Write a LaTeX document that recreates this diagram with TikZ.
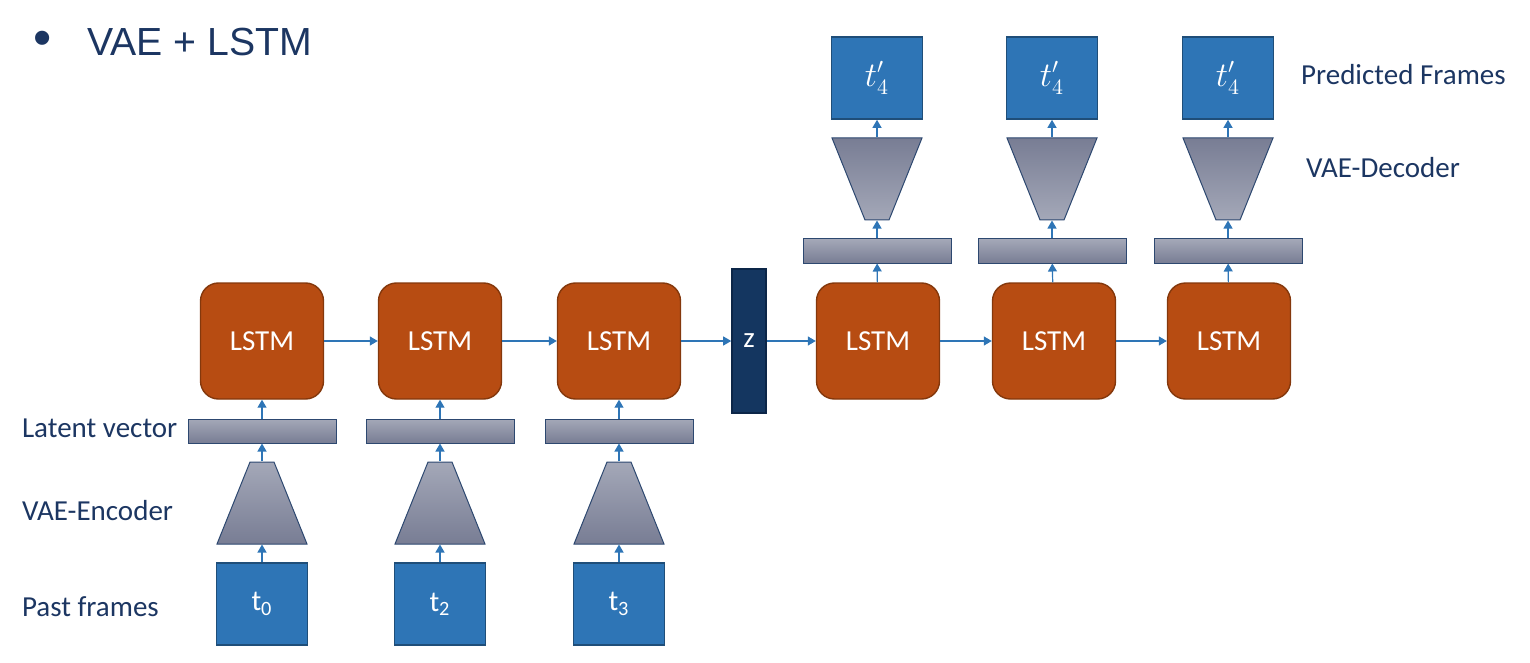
\documentclass[tikz,border=0pt]{standalone}
\usepackage{fontspec}
\setmainfont{Carlito}
\newfontfamily\arialfont{Liberation Sans}
\usetikzlibrary{shapes.geometric, arrows.meta}
\definecolor{lstmorange}{RGB}{183, 76, 18}
\definecolor{lstmedge}{RGB}{132, 56, 12}
\definecolor{frameblue}{RGB}{46, 117, 182}
\definecolor{frameedge}{RGB}{31, 78, 121}
\definecolor{zblue}{RGB}{20, 54, 96}
\definecolor{zedge}{RGB}{12, 38, 72}
\definecolor{textnavy}{RGB}{28, 54, 98}
\definecolor{greylight}{RGB}{164, 168, 184}
\definecolor{greydark}{RGB}{120, 125, 148}
\definecolor{greyedge}{RGB}{45, 72, 112}

\tikzset{
  lstmbox/.style={draw=lstmedge, line width=0.7pt, fill=lstmorange, rounded corners=9pt,
    minimum width=61.5pt, minimum height=58pt, text=white, font=\fontsize{14.5}{17}\selectfont},
  framebox/.style={draw=frameedge, line width=0.8pt, fill=frameblue, minimum width=45.5pt,
    minimum height=41pt, inner sep=0pt, text=white, font=\fontsize{14.5}{17}\selectfont},
  latentbar/.style={draw=greyedge, line width=0.5pt, top color=greylight, bottom color=greydark,
    minimum width=74pt, minimum height=12pt, inner sep=0pt},
  encoder/.style={trapezium, trapezium angle=36, trapezium stretches=true, draw=greyedge,
    line width=0.5pt, top color=greylight, bottom color=greydark,
    minimum width=45pt, minimum height=41pt, inner sep=2pt},
  decoder/.style={encoder, shape border rotate=180, top color=greydark, bottom color=greylight},
  flow/.style={-{Triangle[length=4pt, width=4.5pt]}, draw=frameblue, line width=0.6pt},
  sidelabel/.style={anchor=west, text=textnavy, font=\fontsize{14.5}{17}\selectfont}
}

\begin{document}
\begin{tikzpicture}[x=0.5pt, y=-0.5pt]
  \useasboundingbox (0, 0) rectangle (1530, 663);

  % Title
  \node[text=textnavy, font=\arialfont\fontsize{26}{28}\selectfont] (bullet) at (43, 43) {•};
  \node[anchor=west, text=textnavy, font=\arialfont\fontsize{19.6}{22}\selectfont] (title) at (80, 42) {VAE + LSTM};

  % Row labels
  \node[sidelabel] (lbllatent) at (15, 428) {Latent vector};
  \node[sidelabel] (lblenc) at (15, 511) {VAE-Encoder};
  \node[sidelabel] (lblpast) at (15, 607) {Past frames};
  \node[sidelabel] (lblpred) at (1294, 75) {Predicted Frames};
  \node[sidelabel] (lbldec) at (1299, 168) {VAE-Decoder};

  % Encoder column 1
  \node[framebox] (past0) at (262, 604) {t\textsubscript{0}};
  \node[encoder] (enc0) at (262, 503) {};
  \node[latentbar] (lat0) at (262, 431) {};
  \node[lstmbox] (lstm0) at (262, 341) {LSTM};
  \draw[flow] (past0) -- (enc0);
  \draw[flow] (enc0) -- (lat0);
  \draw[flow] (lat0) -- (lstm0);

  % Encoder column 2
  \node[framebox] (past2) at (440, 604) {t\textsubscript{2}};
  \node[encoder] (enc2) at (440, 503) {};
  \node[latentbar] (lat2) at (440, 431) {};
  \node[lstmbox] (lstm2) at (440, 341) {LSTM};
  \draw[flow] (past2) -- (enc2);
  \draw[flow] (enc2) -- (lat2);
  \draw[flow] (lat2) -- (lstm2);

  % Encoder column 3
  \node[framebox] (past3) at (619, 604) {t\textsubscript{3}};
  \node[encoder] (enc3) at (619, 503) {};
  \node[latentbar] (lat3) at (619, 431) {};
  \node[lstmbox] (lstm3) at (619, 341) {LSTM};
  \draw[flow] (past3) -- (enc3);
  \draw[flow] (enc3) -- (lat3);
  \draw[flow] (lat3) -- (lstm3);

  % Latent z
  \node[draw=zedge, line width=0.8pt, fill=zblue, minimum width=17pt, minimum height=72pt,
    inner sep=0pt, text=white, font=\fontsize{14.5}{17}\selectfont] (z) at (749, 341) {z};

  % Decoder column 1
  \node[lstmbox] (lstm4) at (878, 341) {LSTM};
  \node[latentbar] (dlat4) at (877, 251) {};
  \node[decoder] (dec4) at (877, 179) {};
  \node[framebox] (pred4) at (877, 78) {\fontsize{16}{18}\selectfont$t'_4$};
  \draw[flow] (lstm4) -- (dlat4);
  \draw[flow] (dlat4) -- (dec4);
  \draw[flow] (dec4) -- (pred4);

  % Decoder column 2
  \node[lstmbox] (lstm5) at (1054, 341) {LSTM};
  \node[latentbar] (dlat5) at (1052, 251) {};
  \node[decoder] (dec5) at (1052, 179) {};
  \node[framebox] (pred5) at (1052, 78) {\fontsize{16}{18}\selectfont$t'_4$};
  \draw[flow] (lstm5) -- (dlat5);
  \draw[flow] (dlat5) -- (dec5);
  \draw[flow] (dec5) -- (pred5);

  % Decoder column 3
  \node[lstmbox] (lstm6) at (1229, 341) {LSTM};
  \node[latentbar] (dlat6) at (1228, 251) {};
  \node[decoder] (dec6) at (1228, 179) {};
  \node[framebox] (pred6) at (1228, 78) {\fontsize{16}{18}\selectfont$t'_4$};
  \draw[flow] (lstm6) -- (dlat6);
  \draw[flow] (dlat6) -- (dec6);
  \draw[flow] (dec6) -- (pred6);

  % Recurrent chain
  \draw[flow] (lstm0) -- (lstm2);
  \draw[flow] (lstm2) -- (lstm3);
  \draw[flow] (lstm3) -- (z);
  \draw[flow] (z) -- (lstm4);
  \draw[flow] (lstm4) -- (lstm5);
  \draw[flow] (lstm5) -- (lstm6);
\end{tikzpicture}
\end{document}
